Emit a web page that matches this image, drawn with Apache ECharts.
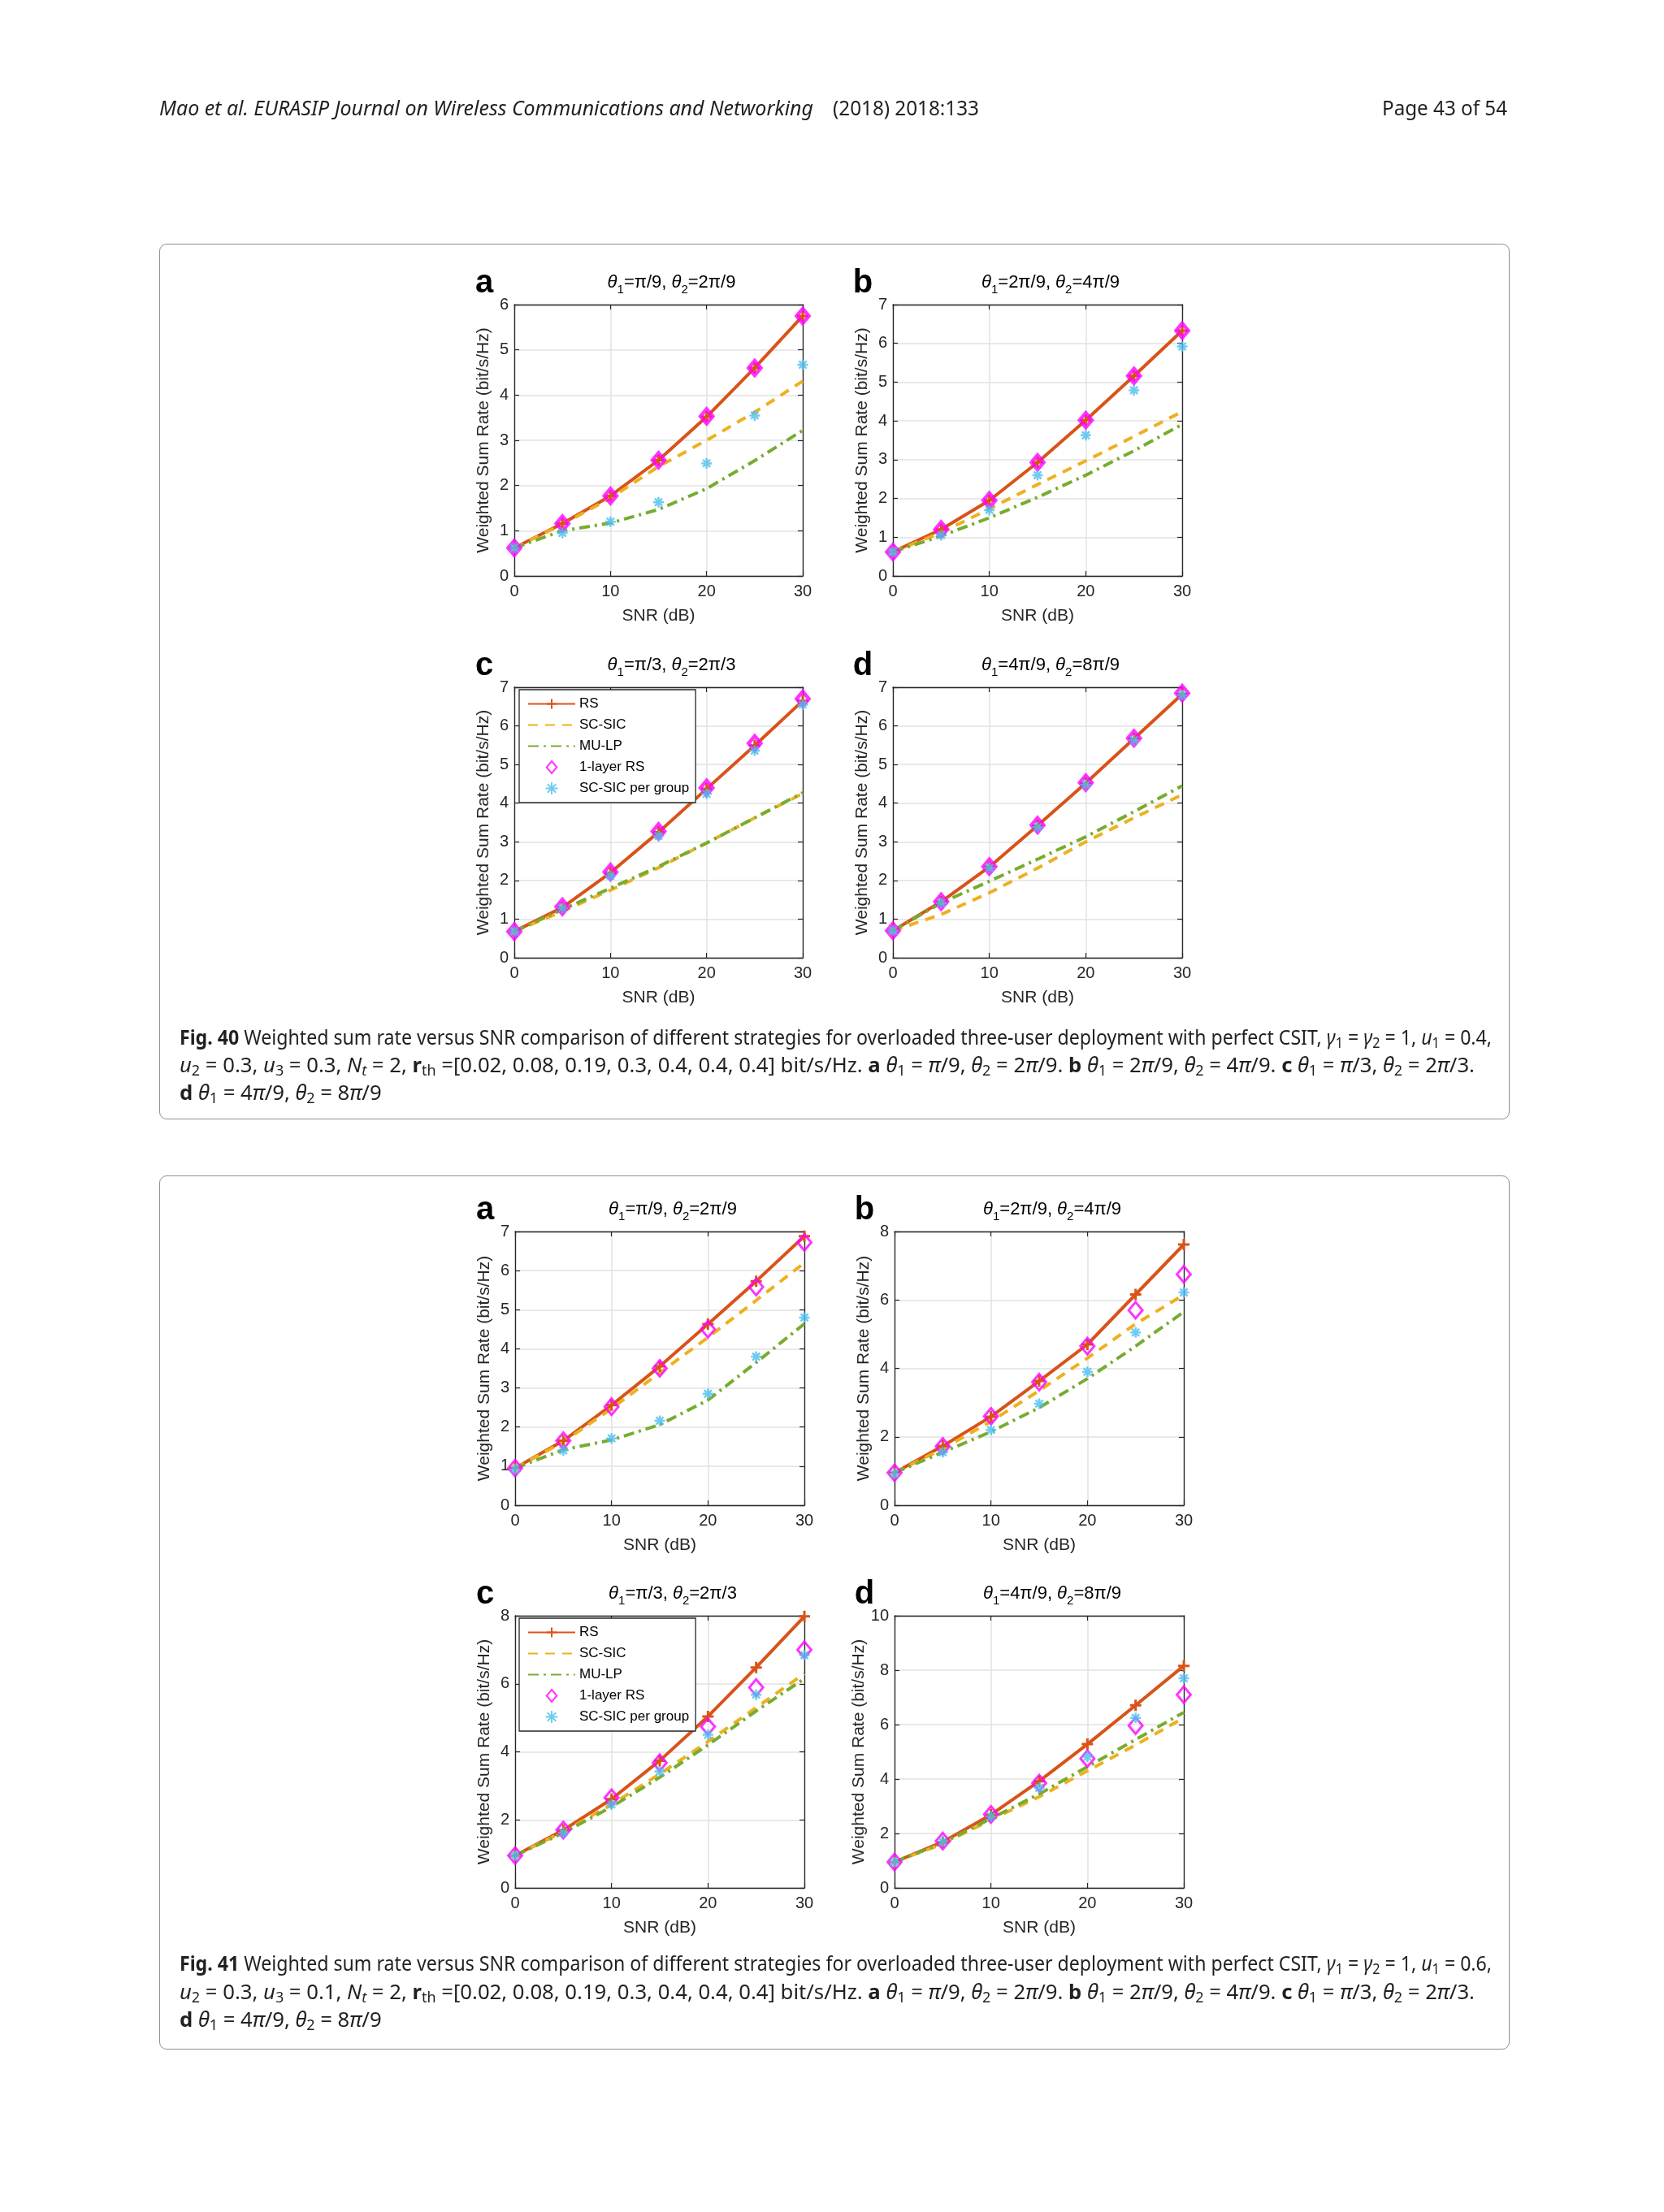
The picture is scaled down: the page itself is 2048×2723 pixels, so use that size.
<!DOCTYPE html>
<html>
<head>
<meta charset="utf-8">
<script src="https://cdn.jsdelivr.net/npm/echarts@6/dist/echarts.min.js"></script>
<style>
  * { margin: 0; padding: 0; }
  body { width: 2048px; height: 2723px; position: relative; background: #fff; overflow: hidden; }
  .box { position: absolute; border: 1.5px solid #8f8f8f; border-radius: 9px; }
  .txt { position: absolute; white-space: nowrap; transform-origin: 0 50%; color: #231f20;
         font-family: "Noto Sans", "Open Sans", sans-serif; z-index: 3; }
  .txt sub { font-size: 0.7em; vertical-align: -0.25em; line-height: 0; }
  #main { position: absolute; left: 0; top: 0; width: 2048px; height: 2723px; z-index: 2; }
</style>
</head>
<body>
<div class="box" style="left:196px;top:300px;width:1660px;height:1076px;"></div>
<div class="box" style="left:196px;top:1447px;width:1660px;height:1074px;"></div>
<div id="main"></div>

<div class="txt" id="hd1" style="left:196px;top:114px;font-size:25px;line-height:36px;font-style:italic;">Mao <i>et al.</i> EURASIP Journal on Wireless Communications and Networking</div>
<div class="txt" id="hd2" style="left:1025px;top:114px;font-size:25px;line-height:36px;">(2018) 2018:133</div>
<div class="txt" id="hd3" style="left:1701px;top:114px;font-size:25px;line-height:36px;">Page 43 of 54</div>

<div class="txt" id="c40a" style="left:221px;top:1258px;font-size:25px;line-height:36px;"><b>Fig. 40</b> Weighted sum rate versus SNR comparison of different strategies for overloaded three-user deployment with perfect CSIT, <i>γ</i><sub>1</sub> = <i>γ</i><sub>2</sub> = 1, <i>u</i><sub>1</sub> = 0.4,</div>
<div class="txt" id="c40b" style="left:221px;top:1292px;font-size:25px;line-height:36px;"><i>u</i><sub>2</sub> = 0.3, <i>u</i><sub>3</sub> = 0.3, <i>N<sub>t</sub></i> = 2, <b>r</b><sub>th</sub> =[0.02, 0.08, 0.19, 0.3, 0.4, 0.4, 0.4] bit/s/Hz. <b>a</b> <i>θ</i><sub>1</sub> = <i>π</i>/9, <i>θ</i><sub>2</sub> = 2<i>π</i>/9. <b>b</b> <i>θ</i><sub>1</sub> = 2<i>π</i>/9, <i>θ</i><sub>2</sub> = 4<i>π</i>/9. <b>c</b> <i>θ</i><sub>1</sub> = <i>π</i>/3, <i>θ</i><sub>2</sub> = 2<i>π</i>/3.</div>
<div class="txt" id="c40c" style="left:221px;top:1326px;font-size:25px;line-height:36px;"><b>d</b> <i>θ</i><sub>1</sub> = 4<i>π</i>/9, <i>θ</i><sub>2</sub> = 8<i>π</i>/9</div>

<div class="txt" id="c41a" style="left:221px;top:2398px;font-size:25px;line-height:36px;"><b>Fig. 41</b> Weighted sum rate versus SNR comparison of different strategies for overloaded three-user deployment with perfect CSIT, <i>γ</i><sub>1</sub> = <i>γ</i><sub>2</sub> = 1, <i>u</i><sub>1</sub> = 0.6,</div>
<div class="txt" id="c41b" style="left:221px;top:2433px;font-size:25px;line-height:36px;"><i>u</i><sub>2</sub> = 0.3, <i>u</i><sub>3</sub> = 0.1, <i>N<sub>t</sub></i> = 2, <b>r</b><sub>th</sub> =[0.02, 0.08, 0.19, 0.3, 0.4, 0.4, 0.4] bit/s/Hz. <b>a</b> <i>θ</i><sub>1</sub> = <i>π</i>/9, <i>θ</i><sub>2</sub> = 2<i>π</i>/9. <b>b</b> <i>θ</i><sub>1</sub> = 2<i>π</i>/9, <i>θ</i><sub>2</sub> = 4<i>π</i>/9. <b>c</b> <i>θ</i><sub>1</sub> = <i>π</i>/3, <i>θ</i><sub>2</sub> = 2<i>π</i>/3.</div>
<div class="txt" id="c41c" style="left:221px;top:2467px;font-size:25px;line-height:36px;"><b>d</b> <i>θ</i><sub>1</sub> = 4<i>π</i>/9, <i>θ</i><sub>2</sub> = 8<i>π</i>/9</div>

<script type="text/javascript">
// x axis: SNR in dB
var snr = [0, 5, 10, 15, 20, 25, 30];
var seriesNames = ['RS', 'SC-SIC', 'MU-LP', '1-layer RS', 'SC-SIC per group'];

// Fig. 40 (u = 0.4, 0.3, 0.3)
var f40a_rs  = [0.62, 1.16, 1.77, 2.56, 3.52, 4.60, 5.75];
var f40a_sc  = [0.62, 1.14, 1.72, 2.42, 3.00, 3.62, 4.31];
var f40a_mu  = [0.62, 1.00, 1.17, 1.47, 1.93, 2.55, 3.22];
var f40a_one = [0.62, 1.16, 1.77, 2.56, 3.53, 4.60, 5.75];
var f40a_grp = [0.62, 0.95, 1.20, 1.63, 2.49, 3.55, 4.67];

var f40b_rs  = [0.62, 1.20, 1.95, 2.93, 4.02, 5.16, 6.33];
var f40b_sc  = [0.62, 1.12, 1.73, 2.36, 2.97, 3.60, 4.24];
var f40b_mu  = [0.62, 1.03, 1.50, 2.03, 2.60, 3.23, 3.91];
var f40b_one = [0.62, 1.20, 1.95, 2.93, 4.02, 5.16, 6.33];
var f40b_grp = [0.62, 1.05, 1.70, 2.60, 3.63, 4.79, 5.92];

var f40c_rs  = [0.68, 1.30, 2.20, 3.25, 4.37, 5.49, 6.65];
var f40c_sc  = [0.68, 1.20, 1.75, 2.33, 2.97, 3.62, 4.25];
var f40c_mu  = [0.68, 1.25, 1.80, 2.36, 2.97, 3.62, 4.27];
var f40c_one = [0.68, 1.32, 2.22, 3.27, 4.40, 5.55, 6.70];
var f40c_grp = [0.68, 1.28, 2.12, 3.15, 4.24, 5.36, 6.55];

var f40d_rs  = [0.70, 1.45, 2.35, 3.42, 4.52, 5.67, 6.82];
var f40d_sc  = [0.70, 1.12, 1.68, 2.32, 3.00, 3.62, 4.22];
var f40d_mu  = [0.70, 1.42, 1.98, 2.55, 3.13, 3.78, 4.45];
var f40d_one = [0.70, 1.45, 2.36, 3.43, 4.53, 5.68, 6.85];
var f40d_grp = [0.70, 1.42, 2.33, 3.38, 4.48, 5.63, 6.80];

// Fig. 41 (u = 0.6, 0.3, 0.1)
var f41a_rs  = [0.95, 1.65, 2.56, 3.55, 4.63, 5.73, 6.88];
var f41a_sc  = [0.95, 1.62, 2.47, 3.39, 4.29, 5.24, 6.20];
var f41a_mu  = [0.95, 1.42, 1.67, 2.06, 2.69, 3.65, 4.64];
var f41a_one = [0.95, 1.65, 2.52, 3.50, 4.50, 5.58, 6.72];
var f41a_grp = [0.92, 1.40, 1.71, 2.16, 2.85, 3.80, 4.80];

var f41b_rs  = [0.95, 1.73, 2.59, 3.63, 4.70, 6.16, 7.62];
var f41b_sc  = [0.95, 1.65, 2.45, 3.35, 4.30, 5.30, 6.15];
var f41b_mu  = [0.95, 1.55, 2.15, 2.85, 3.70, 4.65, 5.65];
var f41b_one = [0.95, 1.72, 2.60, 3.60, 4.65, 5.70, 6.75];
var f41b_grp = [0.92, 1.55, 2.20, 2.97, 3.90, 5.05, 6.22];

var f41c_rs  = [0.95, 1.70, 2.61, 3.74, 5.04, 6.48, 7.98];
var f41c_sc  = [0.95, 1.65, 2.45, 3.35, 4.30, 5.30, 6.30];
var f41c_mu  = [0.95, 1.62, 2.38, 3.25, 4.20, 5.20, 6.15];
var f41c_one = [0.95, 1.70, 2.65, 3.68, 4.74, 5.89, 7.00];
var f41c_grp = [0.95, 1.62, 2.45, 3.42, 4.50, 5.68, 6.84];

var f41d_rs  = [0.95, 1.69, 2.69, 3.92, 5.28, 6.71, 8.16];
var f41d_sc  = [0.95, 1.62, 2.50, 3.35, 4.30, 5.25, 6.25];
var f41d_mu  = [0.95, 1.65, 2.55, 3.45, 4.45, 5.45, 6.45];
var f41d_one = [0.95, 1.72, 2.70, 3.85, 4.75, 5.96, 7.10];
var f41d_grp = [0.95, 1.70, 2.62, 3.68, 4.82, 6.25, 7.70];

// y axis limits / tick steps, a..d for each figure
var yMax = [6, 7, 7, 7, 7, 8, 8, 10];
var yStep = [1, 1, 1, 1, 1, 2, 2, 2];
var panelLetters = ['a', 'b', 'c', 'd', 'a', 'b', 'c', 'd'];
var theta1 = ['π/9', '2π/9', 'π/3', '4π/9', 'π/9', '2π/9', 'π/3', '4π/9'];
var theta2 = ['2π/9', '4π/9', '2π/3', '8π/9', '2π/9', '4π/9', '2π/3', '8π/9'];

var panelData = [
    [f40a_rs, f40a_sc, f40a_mu, f40a_one, f40a_grp],
    [f40b_rs, f40b_sc, f40b_mu, f40b_one, f40b_grp],
    [f40c_rs, f40c_sc, f40c_mu, f40c_one, f40c_grp],
    [f40d_rs, f40d_sc, f40d_mu, f40d_one, f40d_grp],
    [f41a_rs, f41a_sc, f41a_mu, f41a_one, f41a_grp],
    [f41b_rs, f41b_sc, f41b_mu, f41b_one, f41b_grp],
    [f41c_rs, f41c_sc, f41c_mu, f41c_one, f41c_grp],
    [f41d_rs, f41d_sc, f41d_mu, f41d_one, f41d_grp]
];

// plot boxes on the page (px)
var boxes = [
    {left: 633, top: 375, width: 355, height: 334},
    {left: 1099, top: 375, width: 356, height: 334},
    {left: 633, top: 846, width: 355, height: 333},
    {left: 1099, top: 846, width: 356, height: 333},
    {left: 634, top: 1516, width: 356, height: 337},
    {left: 1101, top: 1516, width: 356, height: 337},
    {left: 634, top: 1989, width: 356, height: 335},
    {left: 1101, top: 1989, width: 356, height: 335}
];

var cRS = '#D95319', cSC = '#EDB120', cMU = '#77AC30', cOne = '#FF00FF', cGrp = '#4DBEEE';
var axisCol = '#262626', gridCol = '#e2e2e2';
var fontMain = '"Liberation Sans", Arial, sans-serif';
var plusPath = 'path://M0,5L10,5M5,0L5,10';
var starPath = 'path://M0,5L10,5M5,0L5,10M1.5,1.5L8.5,8.5M8.5,1.5L1.5,8.5';
var diamondPath = 'path://M8,0L16,9.5L8,19L0,9.5Z';

var myChart = echarts.init(document.getElementById('main'), null, {width: 2048, height: 2723});

function pairs(arr) {
    return snr.map(function(x, k) { return [x, arr[k]]; });
}

var grids = [], xAxes = [], yAxes = [], series = [], graphics = [];

for (var i = 0; i < 8; i++) {
    var b = boxes[i];
    grids.push({left: b.left, top: b.top, width: b.width, height: b.height, containLabel: false});

    var lineCfg = {show: true, onZero: false, lineStyle: {color: axisCol, width: 1.3}};
    var tickCfg = {show: true, inside: true, length: 6, lineStyle: {color: axisCol, width: 1.2}};

    xAxes.push({
        gridIndex: i, type: 'value', min: 0, max: 30, interval: 10, position: 'bottom',
        axisLine: lineCfg, axisTick: tickCfg,
        axisLabel: {margin: 9, fontSize: 20, color: axisCol, fontFamily: fontMain},
        splitLine: {show: true, lineStyle: {color: gridCol, width: 1.5}},
        name: 'SNR (dB)', nameLocation: 'middle', nameGap: 39,
        nameTextStyle: {fontSize: 21, color: axisCol, fontFamily: fontMain}
    });
    xAxes.push({
        gridIndex: i, type: 'value', min: 0, max: 30, interval: 10, position: 'top',
        axisLine: lineCfg, axisTick: tickCfg, axisLabel: {show: false}, splitLine: {show: false}
    });
    yAxes.push({
        gridIndex: i, type: 'value', min: 0, max: yMax[i], interval: yStep[i], position: 'left',
        axisLine: lineCfg, axisTick: tickCfg,
        axisLabel: {margin: 7, fontSize: 20, color: axisCol, fontFamily: fontMain},
        splitLine: {show: true, lineStyle: {color: gridCol, width: 1.5}},
        name: 'Weighted Sum Rate (bit/s/Hz)', nameLocation: 'middle', nameGap: 27, nameRotate: 90,
        nameTextStyle: {fontSize: 21, color: axisCol, fontFamily: fontMain}
    });
    yAxes.push({
        gridIndex: i, type: 'value', min: 0, max: yMax[i], interval: yStep[i], position: 'right',
        axisLine: lineCfg, axisTick: tickCfg, axisLabel: {show: false}, splitLine: {show: false}
    });

    var d = panelData[i];
    var fig40 = i < 4;
    var ax = {xAxisIndex: 2 * i, yAxisIndex: 2 * i};
    series.push(Object.assign({
        name: seriesNames[0], type: 'line', data: pairs(d[0]),
        symbol: plusPath, symbolSize: 14, showSymbol: true,
        lineStyle: {color: cRS, width: 4},
        itemStyle: {color: cRS, borderColor: cRS, borderWidth: 3}, z: 2
    }, ax));
    series.push(Object.assign({
        name: seriesNames[1], type: 'line', data: pairs(d[1]), symbol: 'none',
        lineStyle: {color: cSC, width: 4, type: [12, 9]},
        itemStyle: {color: cSC}, z: 2
    }, ax));
    series.push(Object.assign({
        name: seriesNames[2], type: 'line', data: pairs(d[2]), symbol: 'none',
        lineStyle: {color: cMU, width: 4, type: [13, 6, 3, 6]},
        itemStyle: {color: cMU}, z: 2
    }, ax));
    series.push(Object.assign({
        name: seriesNames[3], type: 'scatter', data: pairs(d[3]),
        symbol: diamondPath, symbolSize: fig40 ? 18 : 20, symbolKeepAspect: true,
        itemStyle: {color: 'rgba(255,0,255,0)', borderColor: cOne, borderWidth: fig40 ? 4.5 : 3}, z: 3
    }, ax));
    series.push(Object.assign({
        name: seriesNames[4], type: 'scatter', data: pairs(d[4]),
        symbol: starPath, symbolSize: 13,
        itemStyle: {color: cGrp, borderColor: cGrp, borderWidth: 2.5}, z: 4
    }, ax));

    // panel letter and title
    graphics.push({
        type: 'text', x: b.left - 37, y: b.top - 26,
        style: {text: panelLetters[i], font: 'bold 40px ' + fontMain, fill: '#000', align: 'center', verticalAlign: 'middle'}
    });
    graphics.push({
        type: 'text', x: b.left + b.width / 2 + 16, y: b.top - 38,
        style: {
            text: '{t|θ}{s|1}{n|=' + theta1[i] + ', }{t|θ}{s|2}{n|=' + theta2[i] + '}',
            align: 'center', verticalAlign: 'top', fill: '#000',
            rich: {
                t: {fontSize: 22, fontStyle: 'italic', fontFamily: fontMain, lineHeight: 26, verticalAlign: 'top'},
                n: {fontSize: 22, fontFamily: fontMain, lineHeight: 26, verticalAlign: 'top'},
                s: {fontSize: 15, fontFamily: fontMain, lineHeight: 20, padding: [12, 0, 0, 0], verticalAlign: 'top'}
            }
        }
    });
}

function legendAt(left, top) {
    var hidden = {color: 'rgba(0,0,0,0)', borderWidth: 0};
    return {
        data: [
            {name: seriesNames[0]},
            {name: seriesNames[1], itemStyle: hidden},
            {name: seriesNames[2], itemStyle: hidden},
            {name: seriesNames[3]},
            {name: seriesNames[4]}
        ],
        orient: 'vertical', left: left, top: top,
        itemWidth: 58, itemHeight: 15, itemGap: 9, padding: [9, 8, 9, 10],
        borderColor: axisCol, borderWidth: 1.3, backgroundColor: '#fff',
        textStyle: {fontSize: 17, color: '#000', fontFamily: fontMain},
        selectedMode: false
    };
}

var option = {
    animation: false,
    grid: grids,
    xAxis: xAxes,
    yAxis: yAxes,
    legend: [legendAt(639, 849), legendAt(639, 1992)],
    graphic: graphics,
    series: series
};

myChart.setOption(option);

// stretch header / caption lines to their measured widths on the page
function fitWidth(id, target) {
    var el = document.getElementById(id);
    var w = el.getBoundingClientRect().width;
    var s = target / w;
    el.style.transform = 'scaleX(' + s + ')';
    return s;
}
fitWidth('hd1', 805);
fitWidth('hd2', 180);
fitWidth('hd3', 154);
fitWidth('c40a', 1615);
var s40 = fitWidth('c40b', 1594);
document.getElementById('c40c').style.transform = 'scaleX(' + s40 + ')';
fitWidth('c41a', 1615);
var s41 = fitWidth('c41b', 1594);
document.getElementById('c41c').style.transform = 'scaleX(' + s41 + ')';
</script>
</body>
</html>
